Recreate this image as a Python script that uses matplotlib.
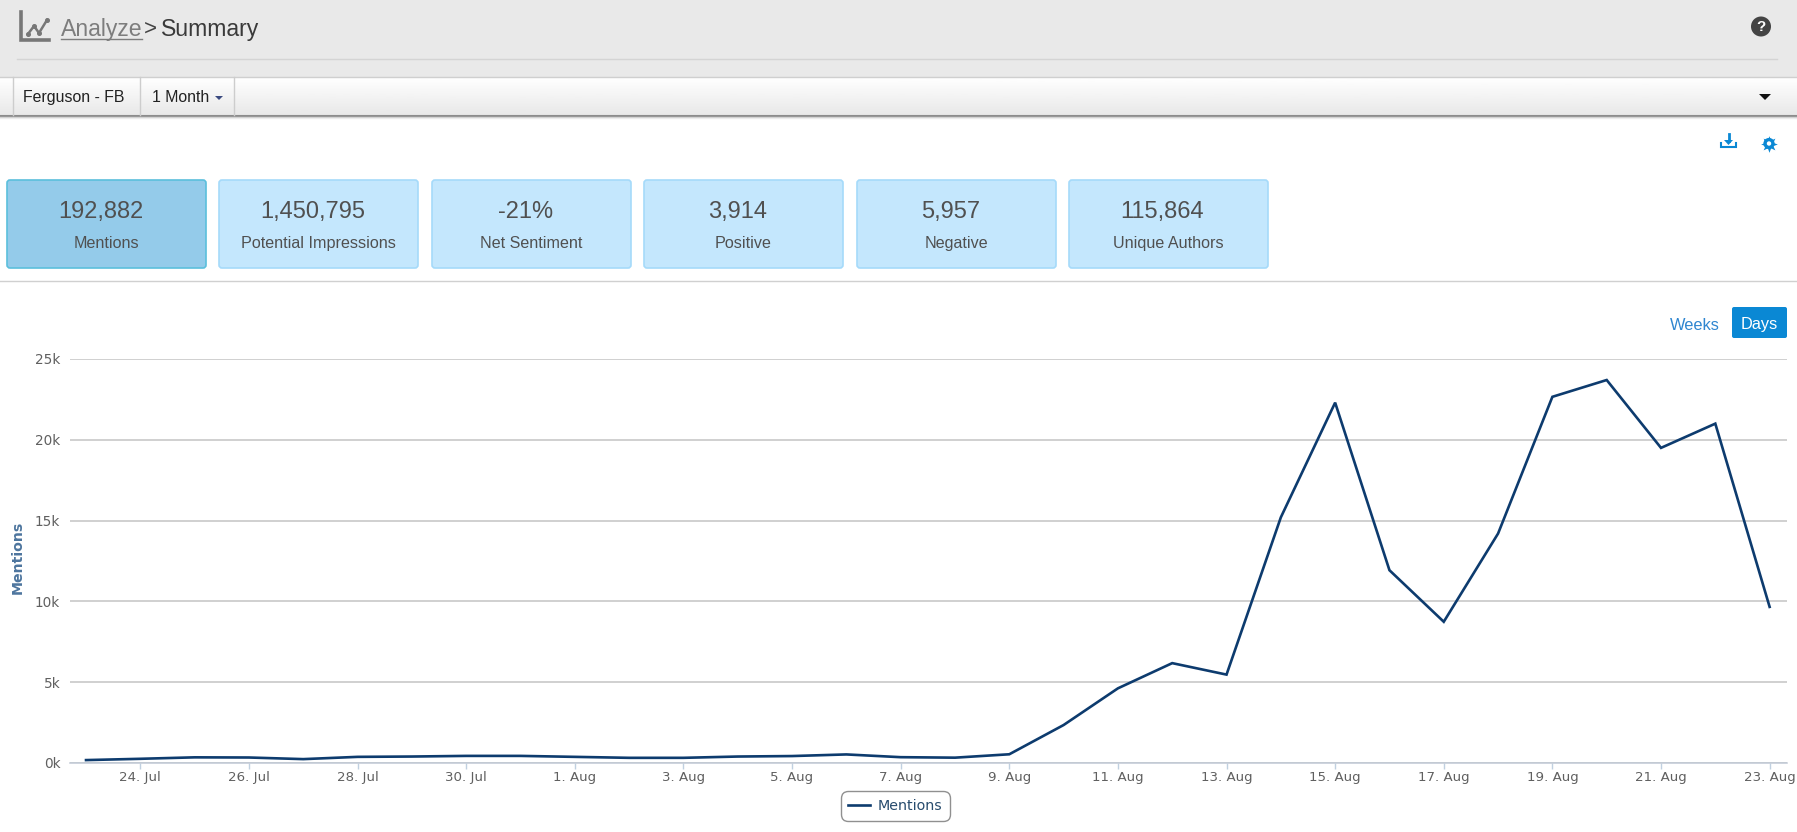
"""Analyze > Summary dashboard: daily mentions for Ferguson - FB."""

import numpy as np
import matplotlib
matplotlib.use("Agg")
import matplotlib.pyplot as plt
from matplotlib.patches import FancyBboxPatch, Rectangle, Circle, Polygon

# chart data, one value per day from 23 Jul to 23 Aug
mentions = [180, 260, 350, 340, 240, 380, 400, 440, 440, 380, 320, 320, 400, 430,
            530, 360, 330, 540, 2350, 4620, 6180, 5470, 15200, 22300, 11930, 8740,
            14200, 22660, 23700, 19500, 21000, 9660]
tick_days = [1, 3, 5, 7, 9, 11, 13, 15, 17, 19, 21, 23, 25, 27, 29, 31]
tick_labels = ['24. Jul', '26. Jul', '28. Jul', '30. Jul', '1. Aug', '3. Aug',
               '5. Aug', '7. Aug', '9. Aug', '11. Aug', '13. Aug', '15. Aug',
               '17. Aug', '19. Aug', '21. Aug', '23. Aug']
y_ticks = [0, 5000, 10000, 15000, 20000, 25000]
y_labels = ['0k', '5k', '10k', '15k', '20k', '25k']

# summary cards
card_values = ['192,882', '1,450,795', '-21%', '3,914', '5,957', '115,864']
card_names = ['Mentions', 'Potential Impressions', 'Net Sentiment', 'Positive',
              'Negative', 'Unique Authors']
card_left = [7, 219, 432, 644, 857, 1069]

W, H = 1797, 832
UI_FONT = 'Liberation Sans'
BLUE = '#0a88d4'

plt.rcParams['font.family'] = 'DejaVu Sans'
fig = plt.figure(figsize=(W / 100, H / 100), dpi=100, facecolor='white')

# page furniture lives in one pixel-coordinate axes behind the chart
ui = fig.add_axes([0, 0, 1, 1], zorder=0)
ui.set_xlim(0, W)
ui.set_ylim(H, 0)
ui.axis('off')

# header
ui.add_patch(Rectangle((0, 0), W, 77, fc='#e9e9e9', ec='none'))
ui.plot([17, 1777], [59, 59], color='#d4d4d4', lw=1)

# chart icon
ui.plot([21, 21, 49], [12, 40, 40], color='#777777', lw=2.6, solid_joinstyle='miter')
ui.plot([28, 34, 39, 47], [34, 26, 33, 20], color='#777777', lw=1.8,
        marker='o', ms=2.6)

ui.text(61, 29.5, 'Analyze', family=UI_FONT, fontsize=16.6, color='#7d7d7d', va='center')
ui.plot([61, 142], [39, 39], color='#7d7d7d', lw=1)
ui.text(144, 29.5, '>', family=UI_FONT, fontsize=16, color='#444444', va='center')
ui.text(161, 29.5, 'Summary', family=UI_FONT, fontsize=16.6, color='#3a3a3a', va='center')

ui.add_patch(Circle((1761, 26.5), 10, fc='#444444', ec='none'))
ui.text(1761, 27, '?', family=UI_FONT, fontsize=11, fontweight='bold', color='white',
        ha='center', va='center')

# toolbar with vertical gradient
grad = np.linspace(1.0, 0.91, 64).reshape(-1, 1)
ui.imshow(grad, extent=[0, W, 115, 77], cmap='gray', vmin=0, vmax=1, aspect='auto',
          zorder=1)
ui.set_xlim(0, W)
ui.set_ylim(H, 0)
ui.plot([0, W], [77, 77], color='#cfcfcf', lw=1, zorder=2)
for y, col, lw in [(115.5, '#8c8c8c', 1.5), (117, '#cccccc', 1), (118, '#ececec', 1)]:
    ui.plot([0, W], [y, y], color=col, lw=lw, zorder=2)
for x in [13, 140, 234]:
    ui.plot([x, x], [77, 115], color='#cdcdcd', lw=1, zorder=2)
ui.text(23, 97.5, 'Ferguson - FB', family=UI_FONT, fontsize=11.4, color='#222222',
        va='center', zorder=3)
ui.text(152, 97.5, '1 Month', family=UI_FONT, fontsize=11.4, color='#222222',
        va='center', zorder=3)
ui.add_patch(Polygon([[215, 96], [223, 96], [219, 100]], fc='#3b4a80', ec='none', zorder=3))
ui.add_patch(Polygon([[1759, 94], [1771, 94], [1765, 100]], fc='#111111', ec='none', zorder=3))

# download and settings icons
ui.plot([1721, 1721, 1736, 1736], [143, 147, 147, 143], color=BLUE, lw=1.5,
        solid_joinstyle='miter')
ui.plot([1728.5, 1728.5], [134, 141], color=BLUE, lw=2)
ui.add_patch(Polygon([[1724, 140], [1733, 140], [1728.5, 145]], fc=BLUE, ec='none'))
ui.plot([1769], [143.5], marker=(8, 1, 0), ms=12, color=BLUE, mew=0)
ui.add_patch(Circle((1769, 143.5), 5.6, fc=BLUE, ec='none'))
ui.add_patch(Circle((1769, 143.5), 2.2, fc='white', ec='none', zorder=3))

# summary cards
for i, (left, val, name) in enumerate(zip(card_left, card_values, card_names)):
    active = i == 0
    ui.add_patch(FancyBboxPatch((left, 180), 199, 88,
                                boxstyle='round,pad=0,rounding_size=3',
                                fc='#94cbea' if active else '#c4e7fd',
                                ec='#5bbfdc' if active else '#a5dafa', lw=1.2))
    cx = left + 99.5
    ui.text(cx - 6, 212, val, family=UI_FONT, fontsize=17, color='#505050',
            ha='center', va='center')
    ui.text(cx, 243.5, name, family=UI_FONT, fontsize=11.6, color='#505050',
            ha='center', va='center')

ui.plot([0, W], [281, 281], color='#d0d0d0', lw=1)

# Weeks / Days switch
ui.text(1695, 325, 'Weeks', family=UI_FONT, fontsize=11.8, color='#2f86d0',
        ha='center', va='center')
ui.add_patch(FancyBboxPatch((1732, 307), 55, 31, boxstyle='round,pad=0,rounding_size=2',
                            fc=BLUE, ec='none'))
ui.text(1759.5, 325, 'Days', family=UI_FONT, fontsize=11.8, color='white',
        ha='center', va='center')

# main chart
left, right, top, bottom = 70, 1787, 359, 763
ax = fig.add_axes([left / W, 1 - bottom / H, (right - left) / W, (bottom - top) / H],
                  zorder=1)
ax.patch.set_alpha(0)
x = np.arange(len(mentions))
ax.plot(x, mentions, color='#0d3b6e', lw=1.9, label='Mentions', zorder=3,
        solid_joinstyle='miter')

ax.set_xlim(-0.295, 31.32)
ax.set_ylim(0, 25000)
ax.set_xticks(tick_days)
ax.set_xticklabels(tick_labels, fontsize=9.6, color='#606060')
ax.set_yticks(y_ticks)
ax.set_yticklabels(y_labels, fontsize=9.8, color='#606060')
ax.tick_params(axis='x', length=4.5, width=1, color='#c0d0e0', pad=1.5)
ax.tick_params(axis='y', length=0, pad=7)
ax.grid(True, axis='y', color='#c4c4c4', lw=1.1)
ax.set_axisbelow(True)
for side in ['top', 'left', 'right']:
    ax.spines[side].set_visible(False)
ax.spines['bottom'].set_color('#c0c8d4')
ax.spines['bottom'].set_linewidth(1.1)

ax.set_ylabel('Mentions', fontsize=10.2, fontweight='bold', color='#4d759e', labelpad=7,
              y=0.51)

leg = ax.legend(loc='center', bbox_to_anchor=(895.5 / W, 1 - 806 / H),
                bbox_transform=fig.transFigure, fontsize=10.3, frameon=True,
                fancybox=True, edgecolor='#909090', framealpha=1,
                handlelength=1.5, handletextpad=0.55, borderpad=0.55, borderaxespad=0)
leg.get_frame().set_boxstyle('round', pad=0, rounding_size=0.5)
leg.get_texts()[0].set_color('#274b6d')

fig.savefig('out.png', dpi=100)
